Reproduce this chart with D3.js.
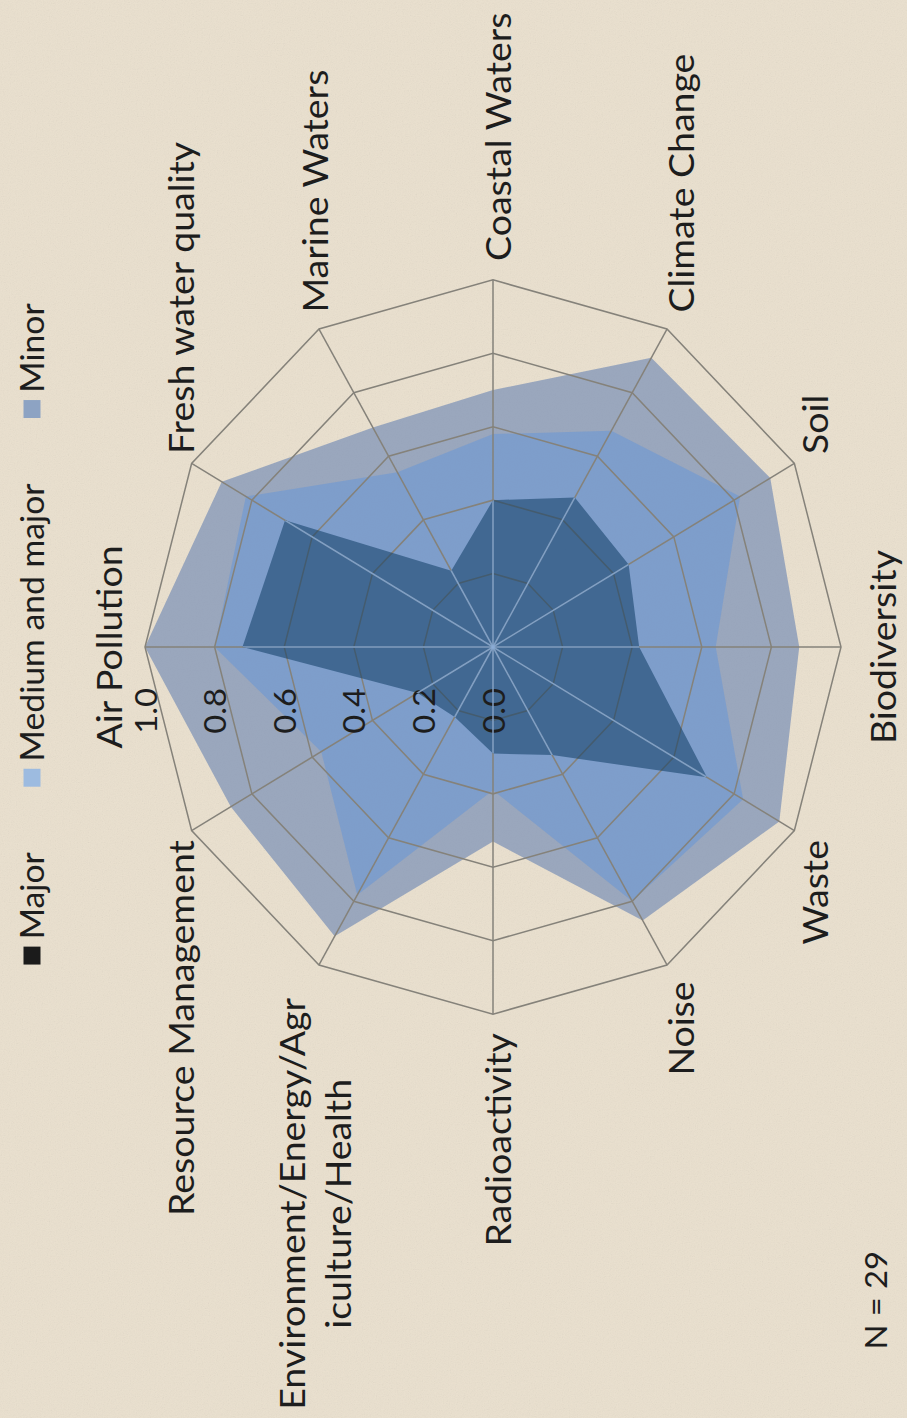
<!DOCTYPE html>
<html>
<head>
<meta charset="utf-8">
<script src="https://cdn.jsdelivr.net/npm/d3@7"></script>
<style>
html,body{margin:0;padding:0;background:#e8decc;}
svg{display:block;}
</style>
</head>
<body>
<svg id="chart" width="907" height="1418"></svg>
<script>
// ---------------- data ----------------
const categories = ["Air Pollution","Fresh water quality","Marine Waters","Coastal Waters","Climate Change","Soil","Biodiversity","Waste","Noise","Radioactivity","Environment/Energy/Agriculture/Health","Resource Management"];
const categoryLines = [["Air Pollution"],["Fresh water quality"],["Marine Waters"],["Coastal Waters"],["Climate Change"],["Soil"],["Biodiversity"],["Waste"],["Noise"],["Radioactivity"],["Environment/Energy/Agr","iculture/Health"],["Resource Management"]];
const seriesNames = ["Major","Medium and major","Minor"];
const majorValues  = [0.72,0.69,0.24,0.40,0.47,0.45,0.42,0.71,0.34,0.29,0.22,0.25];
const mediumValues = [0.80,0.82,0.55,0.58,0.68,0.82,0.64,0.83,0.80,0.39,0.78,0.57];
const minorValues  = [1.00,0.90,0.69,0.70,0.91,0.92,0.88,0.95,0.86,0.53,0.91,0.87];
const tickValues = [0,0.2,0.4,0.6,0.8,1.0];
const tickLabels = ["0.0","0.2","0.4","0.6","0.8","1.0"];
const noteText = "N = 29";

// ---------------- style ----------------
const W = 907, H = 1418;
const cx = 493, cy = 647, R = 348, stretch = 1.055;
const FONT = "Lato, 'Open Sans', sans-serif";
const textColor = "#1d1d1d";
const gridColor = "#85827a";
const fills = {
  "Minor": {color:"rgb(112,136,180)", opacity:0.65},
  "Medium and major": {color:"rgb(108,152,212)", opacity:0.6},
  "Major": {color:"rgb(15,60,100)", opacity:0.55}
};
const legendSwatch = {"Major":"#1b1b1b","Medium and major":"#9dbbe0","Minor":"#8da3c3"};

const svg = d3.select("#chart");
const defs = svg.append("defs");
const flt = defs.append("filter").attr("id","grain").attr("x",0).attr("y",0).attr("width","100%").attr("height","100%");
flt.append("feTurbulence").attr("type","fractalNoise").attr("baseFrequency","0.85").attr("numOctaves",2).attr("seed",7);
flt.append("feColorMatrix").attr("type","saturate").attr("values",0);

svg.append("rect").attr("width",W).attr("height",H).attr("fill","#eae0ce");
svg.append("rect").attr("width",W).attr("height",H).attr("filter","url(#grain)").attr("opacity",0.12);

const tf = `translate(${cx},${cy}) scale(1,${stretch}) rotate(-90)`;
const g = svg.append("g").attr("transform",tf);

const n = categories.length;
const r = d3.scaleLinear().domain([0,1]).range([0,R]);
const angle = d3.scaleLinear().domain([0,n]).range([0,2*Math.PI]);
const radial = d3.lineRadial().angle((d,i)=>angle(i)).radius(d=>r(d)).curve(d3.curveLinearClosed);

// series polygons (Minor, Medium under grid)
g.append("path").datum(minorValues).attr("d",radial)
  .attr("fill",fills["Minor"].color).attr("fill-opacity",fills["Minor"].opacity);
g.append("path").datum(mediumValues).attr("d",radial)
  .attr("fill",fills["Medium and major"].color).attr("fill-opacity",fills["Medium and major"].opacity);

// grid
const grid = g.append("g").attr("fill","none").attr("stroke",gridColor).attr("stroke-width",1.5);
tickValues.filter(v=>v>0).forEach(v=>{
  grid.append("path").datum(d3.range(n).map(()=>v)).attr("d",radial);
});
d3.range(n).forEach(i=>{
  const p = d3.pointRadial(angle(i), r(1));
  grid.append("line").attr("x1",0).attr("y1",0).attr("x2",p[0]).attr("y2",p[1]);
});

// major polygon
g.append("path").datum(majorValues).attr("d",radial)
  .attr("fill",fills["Major"].color).attr("fill-opacity",fills["Major"].opacity);

// light seams along spokes inside the major area
defs.append("clipPath").attr("id","majorClip").append("path").datum(majorValues).attr("d",radial)
  .attr("transform",tf);
const seams = svg.append("g").attr("clip-path","url(#majorClip)")
  .append("g").attr("transform",tf)
  .attr("stroke","rgb(140,172,212)").attr("stroke-width",1.6).attr("stroke-opacity",0.85);
d3.range(n).forEach(i=>{
  const p = d3.pointRadial(angle(i), r(1));
  seams.append("line").attr("x1",0).attr("y1",0).attr("x2",p[0]).attr("y2",p[1]);
});

// tick labels
const tl = g.append("g").attr("font-family",FONT).attr("font-size",31).attr("fill",textColor);
tickValues.forEach((v,i)=>{
  tl.append("text").attr("x",-39).attr("y",-r(v)).attr("text-anchor","end")
    .attr("dominant-baseline","central").text(tickLabels[i]);
});

// category labels
const cl = g.append("g").attr("font-family",FONT).attr("font-size",35.5).attr("fill",textColor);
categoryLines.forEach((lines,i)=>{
  const a = angle(i);
  const s = Math.sin(a), c = Math.cos(a);
  const vx = r(1)*s, vy = -r(1)*c;
  if (Math.abs(s) < 1e-6) {
    cl.append("text").attr("x",vx).attr("y", c>0 ? vy-23 : vy+55)
      .attr("text-anchor","middle").text(lines[0]);
  } else if (lines.length === 1) {
    cl.append("text").attr("x",vx+18*s).attr("y",vy-18*c+4)
      .attr("text-anchor", s>0 ? "start" : "end")
      .attr("dominant-baseline","central").text(lines[0]);
  } else {
    const t = cl.append("text").attr("text-anchor","middle").attr("dominant-baseline","central");
    const spans = lines.map((ln)=>t.append("tspan").text(ln));
    const wMax = d3.max(spans, sp=>sp.node().getComputedTextLength());
    const edge = vx + 36*s;
    const xc = s>0 ? edge + wMax/2 : edge - wMax/2;
    const yc = vy - 18*c + 4;
    const lh = 46;
    spans.forEach((sp,k)=>{
      sp.attr("x",xc).attr("y", yc + (k-(lines.length-1)/2)*lh);
    });
  }
});

// legend
const lg = g.append("g").attr("font-family",FONT).attr("font-size",32).attr("fill",textColor);
const legY = -461, sw = 17;
let lx = -301;
seriesNames.forEach((name)=>{
  lg.append("rect").attr("x",lx).attr("y",legY-sw/2).attr("width",sw).attr("height",sw)
    .attr("fill",legendSwatch[name]);
  const t = lg.append("text").attr("x",lx+sw+7).attr("y",legY).attr("dominant-baseline","central").text(name);
  lx += sw + 7 + t.node().getComputedTextLength() + 62;
});

// note
g.append("text").attr("x",-666).attr("y",382).attr("font-family",FONT).attr("font-size",31)
  .attr("fill",textColor).attr("dominant-baseline","central").text(noteText);
</script>
</body>
</html>
